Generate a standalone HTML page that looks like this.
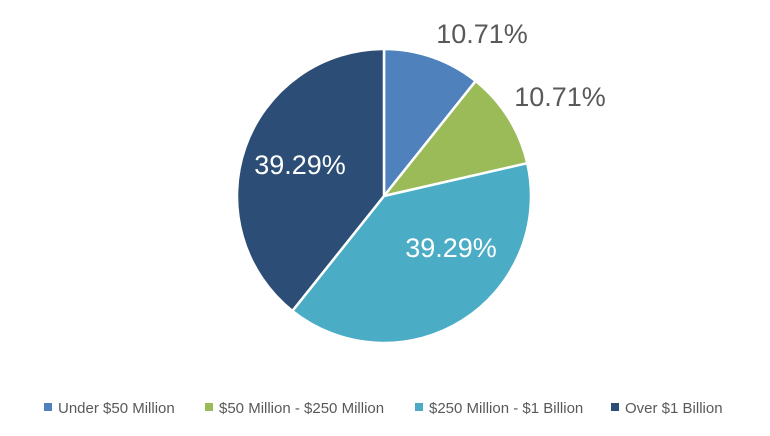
<!DOCTYPE html>
<html><head><meta charset="utf-8"><style>
html,body{margin:0;padding:0;background:#fff;}
body{width:770px;height:431px;overflow:hidden;font-family:"Liberation Sans",sans-serif;}
</style></head><body>
<svg width="770" height="431" viewBox="0 0 770 431">
<g id="slices"></g>
<g id="labels"></g>
<g id="legend"></g>
</svg>
<script>
const categories = ["Under $50 Million","$50 Million - $250 Million","$250 Million - $1 Billion","Over $1 Billion"];
const values = [10.71, 10.71, 39.29, 39.29];
const valueLabels = ["10.71%","10.71%","39.29%","39.29%"];
const colors = ["#4f81bd","#9bbb59","#4bacc6","#2c4d75"];
const labelPos = [[482,33,"#595959"],[560,96,"#595959"],[451,247,"#fff"],[300,164,"#fff"]];
const legendX = [44,205,415,611];
const NS="http://www.w3.org/2000/svg";
const cx=384, cy=196, r=147;
const total=values.reduce((a,b)=>a+b,0);
let ang=0;
const sl=document.getElementById('slices');
values.forEach((v,i)=>{
  const a0=ang, a1=ang+v/total*2*Math.PI; ang=a1;
  const x0=cx+r*Math.sin(a0), y0=cy-r*Math.cos(a0);
  const x1=cx+r*Math.sin(a1), y1=cy-r*Math.cos(a1);
  const large=(a1-a0)>Math.PI?1:0;
  const p=document.createElementNS(NS,'path');
  p.setAttribute('d',`M${cx},${cy} L${x0},${y0} A${r},${r} 0 ${large} 1 ${x1},${y1} Z`);
  p.setAttribute('fill',colors[i]);
  p.setAttribute('stroke','#fff');
  p.setAttribute('stroke-width','2.5');
  p.setAttribute('stroke-linejoin','round');
  
  
  sl.appendChild(p);
});
const lb=document.getElementById('labels');
valueLabels.forEach((t,i)=>{
  const e=document.createElementNS(NS,'text');
  e.setAttribute('x',labelPos[i][0]);
  e.setAttribute('y',labelPos[i][1]+10);
  e.setAttribute('text-anchor','middle');
  e.setAttribute('font-size','27');
  e.setAttribute('fill',labelPos[i][2]);
  e.textContent=t;
  
  
  lb.appendChild(e);
});
const lg=document.getElementById('legend');
categories.forEach((c,i)=>{
  const g=document.createElementNS(NS,'g');
  
  
  const s=document.createElementNS(NS,'rect');
  s.setAttribute('x',legendX[i]);s.setAttribute('y',403);
  s.setAttribute('width',8);s.setAttribute('height',8);
  s.setAttribute('fill',colors[i]);
  g.appendChild(s);
  const t=document.createElementNS(NS,'text');
  t.setAttribute('x',legendX[i]+14);t.setAttribute('y',413);
  t.setAttribute('font-size','15');t.setAttribute('fill','#595959');
  t.textContent=c;
  g.appendChild(t);
  lg.appendChild(g);
});
</script>
</body></html>
